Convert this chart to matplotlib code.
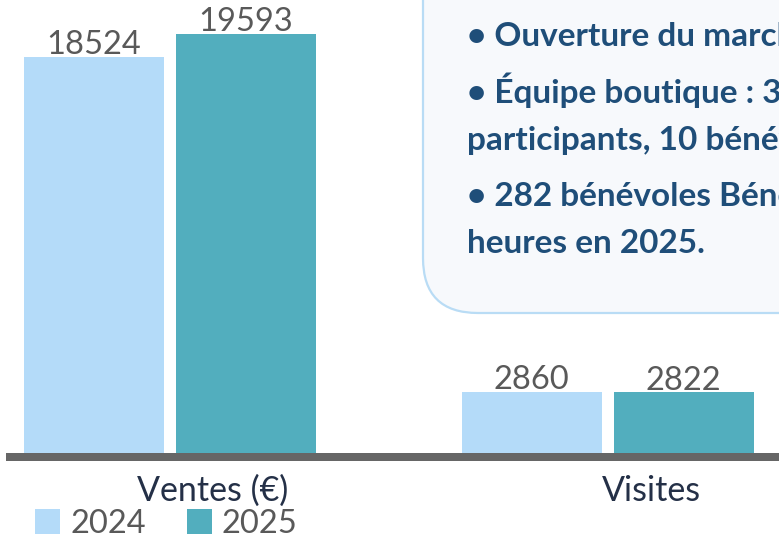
import matplotlib
matplotlib.use("Agg")
import matplotlib.pyplot as plt
import matplotlib.transforms as mtransforms
from matplotlib.patches import FancyBboxPatch
import numpy as np

plt.rcParams['font.family'] = ['Lato', 'DejaVu Sans']

# ---- data ----
categories = ["Ventes (€)", "Visites"]
series_names = ["2024", "2025"]
values_2024 = [18524, 2860]
values_2025 = [19593, 2822]
note_lines = [
    "• Ouverture du marché",
    "• Équipe boutique : 3",
    "participants, 10 bénévoles",
    "• 282 bénévoles Bénévoles",
    "heures en 2025.",
]

# ---- styles ----
c2024 = "#b4dbf9"
c2025 = "#52aebe"
label_gray = "#595959"
axis_gray = "#666666"
navy = "#1f4e79"
cat_color = "#243047"

W, H = 779, 544
dpi = 100
fig = plt.figure(figsize=(W / dpi, H / dpi), dpi=dpi)

# axes geometry in pixels (from top)
px_per_unit = 1 / 46.8
base_y = 452.7          # y=0 in pixels from top
spine_px = 8
ax_bottom_px = base_y + spine_px / 2
left_px = 10
cat0_px = 169.5
cat_step_px = 438.0

ax = fig.add_axes([left_px / W, (H - ax_bottom_px) / H, (W - left_px) / W, ax_bottom_px / H])
ax.set_xlim((left_px - cat0_px) / cat_step_px, (W - cat0_px) / cat_step_px)
ax.set_ylim(-(spine_px / 2) / px_per_unit, base_y / px_per_unit)

x = np.arange(len(categories))
bw = 140 / cat_step_px
off = 76 / cat_step_px
b1 = ax.bar(x - off, values_2024, width=bw, color=c2024, label=series_names[0], zorder=1)
b2 = ax.bar(x + off, values_2025, width=bw, color=c2025, label=series_names[1], zorder=1)

for bars, vals in ((b1, values_2024), (b2, values_2025)):
    for rect, v in zip(bars, vals):
        ax.annotate(f"{v}", (rect.get_x() + rect.get_width() / 2, rect.get_height()),
                    xytext=(0, 2), textcoords="offset points", ha="center", va="baseline",
                    fontsize=23.5, color=label_gray)

for s in ["top", "right", "left"]:
    ax.spines[s].set_visible(False)
ax.spines["bottom"].set_color(axis_gray)
ax.spines["bottom"].set_linewidth(spine_px * 72 / dpi)
ax.spines["bottom"].set_zorder(3)
ax.set_yticks([])
ax.set_xticks(x)
ax.set_xticklabels(categories, fontsize=24.5, color=cat_color)
ax.tick_params(axis="x", length=0, pad=13)
shift = mtransforms.ScaledTranslation(43.5 / dpi, 0, fig.dpi_scale_trans)
for lab in ax.get_xticklabels():
    lab.set_transform(lab.get_transform() + shift)
ax.patch.set_visible(False)

# legend
fig.legend(handles=[b1, b2], labels=series_names, loc="center left",
           bbox_to_anchor=(35 / W, 20 / H), ncol=2, frameon=False,
           fontsize=23.5, labelcolor=label_gray, handlelength=0.78, handleheight=0.78,
           handletextpad=0.3, columnspacing=1.25, borderpad=0, borderaxespad=0)

# note box (pixel coordinates, origin bottom-left)
box = FancyBboxPatch((423, H - 313), 700, 420,
                     boxstyle="round,pad=0,rounding_size=55",
                     transform=None, facecolor="#f7f9fc", edgecolor="#b9dcf5",
                     linewidth=1.6, zorder=5)
fig.patches.append(box)
baselines = [46, 103, 150, 206, 253]
for txt, yb in zip(note_lines, baselines):
    fig.text(467 / W, (H - yb) / H, txt, ha="left", va="baseline",
             fontsize=24, fontweight="bold", color=navy, zorder=6)

fig.savefig("out.png", dpi=dpi)
